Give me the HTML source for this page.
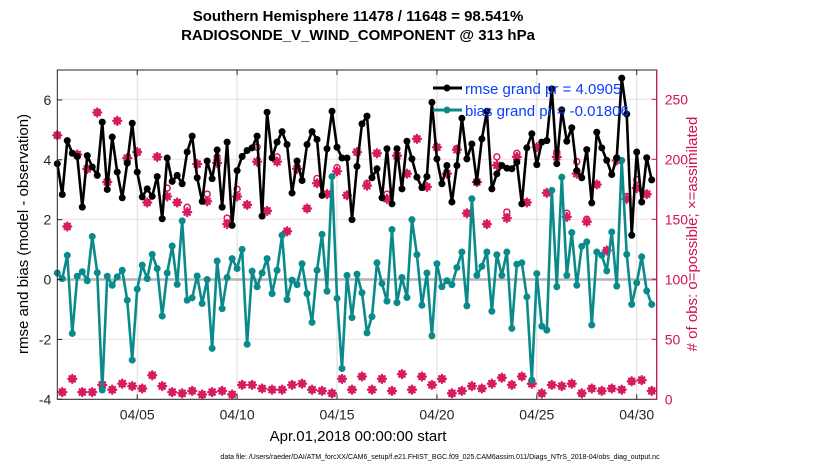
<!DOCTYPE html>
<html><head><meta charset="utf-8"><style>
html,body{margin:0;padding:0;background:#fff;}
svg{display:block;font-family:"Liberation Sans",sans-serif;}
</style></head><body>
<svg id="chart" width="830" height="470" viewBox="0 0 830 470">
<rect x="0" y="0" width="830" height="470" fill="#fff"/>
<text x="358" y="21" text-anchor="middle" font-size="15" font-weight="bold">Southern Hemisphere 11478 / 11648 = 98.541%</text>
<text x="358" y="40" text-anchor="middle" font-size="15" font-weight="bold">RADIOSONDE_V_WIND_COMPONENT @ 313 hPa</text>
<g id="grid"></g>
<g id="marks"></g>
<g id="axes"></g>
<text transform="translate(28,234) rotate(-90)" text-anchor="middle" font-size="15">rmse and bias (model - observation)</text>
<text transform="translate(697,234) rotate(-90)" text-anchor="middle" font-size="15" fill="#d0105a"># of obs: o=possible; ×=assimilated</text>
<text x="358" y="441" text-anchor="middle" font-size="15">Apr.01,2018 00:00:00 start</text>
<text x="440" y="459" text-anchor="middle" font-size="7">data file: /Users/raeder/DAI/ATM_forcXX/CAM6_setup/f.e21.FHIST_BGC.f09_025.CAM6assim.011/Diags_NTrS_2018-04/obs_diag_output.nc</text>
<g>
<g>
<line x1="433" y1="88" x2="462" y2="88" stroke="#000" stroke-width="3"/><circle cx="447" cy="88" r="3.5" fill="#000"/>
<text x="465" y="94" font-size="15" fill="#0a3cff">rmse grand pr = 4.0905</text></g>
<g>
<line x1="433" y1="110" x2="462" y2="110" stroke="#0a8a8a" stroke-width="3"/><circle cx="447" cy="110" r="3.5" fill="#0a8a8a"/>
<text x="465" y="116" font-size="15" fill="#0a3cff">bias grand pr = -0.01806</text></g>
</g>
</svg>
<script>
const rmse=[3.87,2.84,4.64,4.22,4.11,2.42,4.14,3.76,3.48,5.26,3.01,4.76,3.59,2.73,3.89,5.22,3.59,2.76,3.03,2.78,3.44,2.03,4.06,3.28,3.48,3.20,4.26,4.79,3.40,2.61,3.96,3.37,4.33,2.42,4.59,1.81,3.64,4.11,4.31,4.40,4.79,2.12,5.59,4.07,4.59,4.94,4.51,2.89,3.96,3.31,4.51,4.94,4.68,2.81,4.37,5.62,4.42,4.06,4.06,2.00,3.78,5.20,5.46,3.40,3.70,2.73,4.37,2.53,4.37,3.03,4.62,4.03,3.42,3.07,3.44,5.92,4.03,3.20,3.81,2.59,3.81,5.39,4.03,4.53,3.26,4.70,5.62,3.03,3.53,3.81,3.72,3.70,3.92,2.53,4.40,4.87,3.84,4.59,4.64,6.37,3.87,5.67,4.62,5.07,3.64,3.40,4.34,2.56,4.92,4.40,3.98,3.51,4.07,6.73,5.53,1.48,4.26,2.59,4.07,3.33];
const bias=[0.22,0.03,0.81,-1.80,0.11,0.26,-0.04,1.44,0.23,-3.69,0.11,-0.19,0.09,0.31,-0.69,-2.69,-0.32,0.48,0.03,0.84,0.37,-1.22,0.22,1.12,-0.16,1.96,-0.69,-0.61,0.12,-0.80,0.00,-2.30,0.62,-0.97,0.07,0.70,0.37,1.01,-2.16,0.28,-0.24,0.22,0.70,-0.47,0.31,1.48,-0.67,-0.02,-0.17,0.53,-0.47,-1.43,0.31,1.51,-0.39,3.44,-0.63,-2.97,0.14,-1.27,0.18,-0.44,-1.78,-1.24,0.56,-0.13,-0.72,1.67,-0.77,0.07,-0.60,2.00,0.83,-0.86,0.22,-1.88,0.53,-0.24,-0.04,-0.17,0.40,0.92,-0.88,2.70,0.14,0.44,0.92,-1.06,0.83,0.14,0.92,-1.63,0.51,0.56,-0.58,-3.36,0.20,-1.56,-1.69,2.98,-0.24,3.42,0.14,1.57,-0.19,1.11,1.26,-1.52,0.92,0.81,0.29,1.59,-0.22,3.98,0.84,-0.83,-0.11,0.76,-0.38,-0.83];
const nAssim=[220,6,144,17,204,6,192,6,239,12,181,8,232,13,201,11,206,9,164,20,202,11,169,6,164,5,156,7,196,4,165,6,197,7,146,4,169,12,162,12,198,9,157,8,198,8,140,12,192,13,159,8,180,7,171,5,190,17,170,8,206,19,178,8,205,17,167,7,203,21,188,8,217,19,177,12,210,17,188,5,208,7,155,11,181,9,146,13,195,18,151,12,202,19,164,13,210,5,172,12,202,11,152,13,188,5,148,9,179,7,124,9,199,8,167,15,176,16,171,7];
const nPoss=[220,6,144,17,204,6,192,6,239,12,181,8,232,13,201,11,206,9,164,20,202,11,176,6,164,5,160,7,196,4,171,6,202,7,151,4,175,12,162,12,210,9,157,8,202,8,140,12,194,13,159,8,184,7,171,5,193,17,170,8,206,19,180,8,205,17,171,7,203,21,188,8,217,19,177,12,210,17,188,5,209,7,155,11,181,9,146,13,202,18,156,12,205,19,164,13,210,5,172,12,206,11,155,13,198,5,150,9,179,7,124,9,200,8,169,15,183,16,171,7];
const leftTicks=[-4,-2,0,2,4,6];
const rightTicks=[0,50,100,150,200,250];
const dateTickDays=[4,9,14,19,24,29];
const dateTickLabels=["04/05","04/10","04/15","04/20","04/25","04/30"];

const NS="http://www.w3.org/2000/svg";
const L=57.3,R=656.7,T=70,B=399.3;
const X=d=>L+(d/30)*(R-L);
const Y=v=>B-(v+4)/11*(B-T);
const Y2=c=>B-c/274.4*(B-T);
function mk(tag,attrs,parent){const e=document.createElementNS(NS,tag);for(const k in attrs)e.setAttribute(k,attrs[k]);parent.appendChild(e);return e;}
const grid=document.getElementById('grid'),marks=document.getElementById('marks'),axes=document.getElementById('axes');

rightTicks.forEach(t=>{const g=mk('line',{x1:L,x2:R,y1:Y2(t),y2:Y2(t),stroke:'#f0dde6','stroke-width':1},grid);

});
dateTickDays.forEach(d=>{const g=mk('line',{x1:X(d),x2:X(d),y1:T,y2:B,stroke:'#dcdcdc','stroke-width':1},grid);

});
const z=mk('line',{x1:L,x2:R,y1:Y(0),y2:Y(0),stroke:'#b4b4b4','stroke-width':2.5},grid);



nPoss.forEach((c,i)=>{const e=mk('circle',{cx:X(i/4),cy:Y2(c),r:3,fill:'none',stroke:'#d81b60','stroke-width':1.5},marks);

});
nAssim.forEach((c,i)=>{const x=X(i/4),y=Y2(c);
const e=mk('path',{d:`M${x-4},${y}L${x+4},${y}M${x},${y-4}L${x},${y+4}M${x-2.7},${y-2.7}L${x+2.7},${y+2.7}M${x-2.7},${y+2.7}L${x+2.7},${y-2.7}`,stroke:'#d81b60','stroke-width':2.3,'stroke-linecap':'round'},marks);

});

function series(arr,color,name){
const p=mk('polyline',{points:arr.map((v,i)=>X(i/4)+','+Y(v)).join(' '),fill:'none',stroke:color,'stroke-width':2.6,'stroke-linejoin':'round'},marks);


arr.forEach((v,i)=>{const c=mk('circle',{cx:X(i/4),cy:Y(v),r:3.5,fill:color},marks);

});}
series(bias,'#0a8a8a','bias');
series(rmse,'#000','rmse');

const fr=mk('rect',{x:L,y:T,width:R-L,height:B-T,fill:'none',stroke:'#262626','stroke-width':1},axes);


const ra=mk('line',{x1:R,x2:R,y1:T,y2:B,stroke:'#d0105a','stroke-width':1.2},axes);


leftTicks.forEach(t=>{mk('line',{x1:L,x2:L+5,y1:Y(t),y2:Y(t),stroke:'#262626'},axes);
const tx=mk('text',{x:L-6,y:Y(t)+5,'text-anchor':'end','font-size':14,fill:'#262626'},axes);tx.textContent=t;

});
rightTicks.forEach(t=>{mk('line',{x1:R-5,x2:R,y1:Y2(t),y2:Y2(t),stroke:'#d0105a'},axes);
const tx=mk('text',{x:R+8,y:Y2(t)+5,'font-size':14,fill:'#d0105a'},axes);tx.textContent=t;

});
dateTickDays.forEach((d,k)=>{mk('line',{x1:X(d),x2:X(d),y1:B,y2:B-5,stroke:'#262626'},axes);
mk('line',{x1:X(d),x2:X(d),y1:T,y2:T+5,stroke:'#262626'},axes);
const tx=mk('text',{x:X(d),y:B+20,'text-anchor':'middle','font-size':14,fill:'#262626'},axes);tx.textContent=dateTickLabels[k];

});
</script>
</body></html>
